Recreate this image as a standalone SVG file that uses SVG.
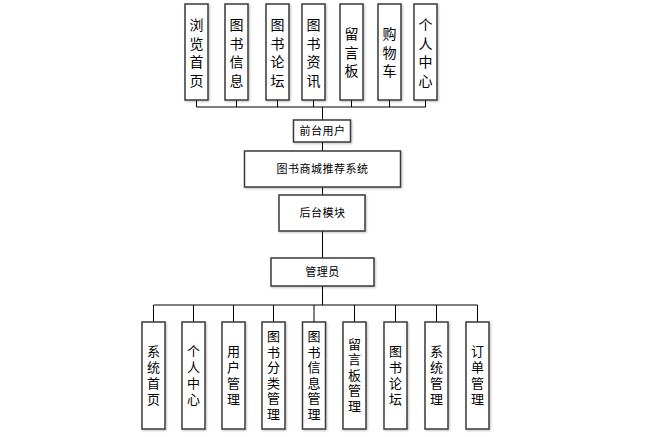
<svg xmlns="http://www.w3.org/2000/svg" width="671" height="437" viewBox="0 0 671 437">
<defs>
<filter id="sh" x="-20%" y="-20%" width="140%" height="140%">
<feGaussianBlur in="SourceAlpha" stdDeviation="1"/>
<feOffset dx="1" dy="1"/>
<feComponentTransfer><feFuncA type="linear" slope="0.25"/></feComponentTransfer>
<feMerge><feMergeNode/><feMergeNode in="SourceGraphic"/></feMerge>
</filter>
</defs>
<style>
.box{fill:#fff;stroke:#3a3a3a;stroke-width:1.5;filter:url(#sh)}
.ln{stroke:#000;stroke-width:1;fill:none}
.t{font-family:"Noto Sans CJK SC","Liberation Sans",sans-serif;fill:#000;text-anchor:middle}
.v1{font-size:14px}
.v2{font-size:13px}
.h{font-size:11px;letter-spacing:0.5px}
</style>
<rect width="671" height="437" fill="#fff"/>
<g id="connectors">
<path class="ln" d="M196.5 100V107M236.5 100V107M277.5 100V107M313.5 100V107M351.5 100V107M389.5 100V107M425.5 100V107M196.5 107H425.5"/>
<path class="ln" d="M322.5 107V120M322.5 142V151M322.5 187V195M322.5 231V258M322.5 286V305"/>
<path class="ln" d="M153.5 305H477.5M153.5 305V322M193.5 305V322M233.5 305V322M273.5 305V322M314 305V322M354.5 305V322M395.5 305V322M436.5 305V322M477.5 305V322"/>
</g>
<g id="n_liulan"><rect class="box" x="185" y="4" width="23" height="96"/><text class="t v1" x="196.5"><tspan x="196.5" y="30">浏</tspan><tspan x="196.5" y="48.5">览</tspan><tspan x="196.5" y="67">首</tspan><tspan x="196.5" y="85.5">页</tspan></text></g>
<g id="n_tsxx"><rect class="box" x="225" y="4" width="23" height="96"/><text class="t v1"><tspan x="236.5" y="30">图</tspan><tspan x="236.5" y="48.5">书</tspan><tspan x="236.5" y="67">信</tspan><tspan x="236.5" y="85.5">息</tspan></text></g>
<g id="n_tslt"><rect class="box" x="266" y="4" width="23" height="96"/><text class="t v1"><tspan x="277.5" y="30">图</tspan><tspan x="277.5" y="48.5">书</tspan><tspan x="277.5" y="67">论</tspan><tspan x="277.5" y="85.5">坛</tspan></text></g>
<g id="n_tszx"><rect class="box" x="302" y="4" width="23" height="96"/><text class="t v1"><tspan x="313.5" y="30">图</tspan><tspan x="313.5" y="48.5">书</tspan><tspan x="313.5" y="67">资</tspan><tspan x="313.5" y="85.5">讯</tspan></text></g>
<g id="n_lyb"><rect class="box" x="340" y="4" width="23" height="96"/><text class="t v1"><tspan x="351.5" y="39">留</tspan><tspan x="351.5" y="57.5">言</tspan><tspan x="351.5" y="76">板</tspan></text></g>
<g id="n_gwc"><rect class="box" x="378" y="4" width="23" height="96"/><text class="t v1"><tspan x="389.5" y="39">购</tspan><tspan x="389.5" y="57.5">物</tspan><tspan x="389.5" y="76">车</tspan></text></g>
<g id="n_grzx"><rect class="box" x="414" y="4" width="23" height="96"/><text class="t v1"><tspan x="425.5" y="30">个</tspan><tspan x="425.5" y="48.5">人</tspan><tspan x="425.5" y="67">中</tspan><tspan x="425.5" y="85.5">心</tspan></text></g>
<g id="n_qtyh"><rect class="box" x="293.5" y="120" width="57" height="22"/><text class="t h" x="322.5" y="135">前台用户</text></g>
<g id="n_sys"><rect class="box" x="244.5" y="151" width="156" height="36"/><text class="t h" x="322.5" y="173">图书商城推荐系统</text></g>
<g id="n_htmk"><rect class="box" x="279" y="195" width="86" height="36"/><text class="t h" x="322.5" y="217">后台模块</text></g>
<g id="n_gly"><rect class="box" x="271" y="258" width="103" height="28"/><text class="t h" x="322.5" y="276">管理员</text></g>
<g id="b_xtsy"><rect class="box" x="142" y="322" width="23" height="107"/><text class="t v2"><tspan x="153.5" y="356">系</tspan><tspan x="153.5" y="372">统</tspan><tspan x="153.5" y="388">首</tspan><tspan x="153.5" y="404">页</tspan></text></g>
<g id="b_grzx"><rect class="box" x="182" y="322" width="23" height="107"/><text class="t v2"><tspan x="193.5" y="356">个</tspan><tspan x="193.5" y="372">人</tspan><tspan x="193.5" y="388">中</tspan><tspan x="193.5" y="404">心</tspan></text></g>
<g id="b_yhgl"><rect class="box" x="222" y="322" width="23" height="107"/><text class="t v2"><tspan x="233.5" y="356">用</tspan><tspan x="233.5" y="372">户</tspan><tspan x="233.5" y="388">管</tspan><tspan x="233.5" y="404">理</tspan></text></g>
<g id="b_tsfl"><rect class="box" x="262" y="322" width="23" height="107"/><text class="t v2"><tspan x="273.5" y="341">图</tspan><tspan x="273.5" y="356.5">书</tspan><tspan x="273.5" y="372">分</tspan><tspan x="273.5" y="387.5">类</tspan><tspan x="273.5" y="403">管</tspan><tspan x="273.5" y="418.5">理</tspan></text></g>
<g id="b_tsxx"><rect class="box" x="302.5" y="322" width="23" height="107"/><text class="t v2"><tspan x="314" y="341">图</tspan><tspan x="314" y="356.5">书</tspan><tspan x="314" y="372">信</tspan><tspan x="314" y="387.5">息</tspan><tspan x="314" y="403">管</tspan><tspan x="314" y="418.5">理</tspan></text></g>
<g id="b_lyb"><rect class="box" x="343" y="322" width="23" height="107"/><text class="t v2"><tspan x="354.5" y="348.5">留</tspan><tspan x="354.5" y="364">言</tspan><tspan x="354.5" y="379.5">板</tspan><tspan x="354.5" y="395">管</tspan><tspan x="354.5" y="410.5">理</tspan></text></g>
<g id="b_tslt"><rect class="box" x="384" y="322" width="23" height="107"/><text class="t v2"><tspan x="395.5" y="356">图</tspan><tspan x="395.5" y="372">书</tspan><tspan x="395.5" y="388">论</tspan><tspan x="395.5" y="404">坛</tspan></text></g>
<g id="b_xtgl"><rect class="box" x="425" y="322" width="23" height="107"/><text class="t v2"><tspan x="436.5" y="356">系</tspan><tspan x="436.5" y="372">统</tspan><tspan x="436.5" y="388">管</tspan><tspan x="436.5" y="404">理</tspan></text></g>
<g id="b_ddgl"><rect class="box" x="466" y="322" width="23" height="107"/><text class="t v2"><tspan x="477.5" y="356">订</tspan><tspan x="477.5" y="372">单</tspan><tspan x="477.5" y="388">管</tspan><tspan x="477.5" y="404">理</tspan></text></g>
</svg>
